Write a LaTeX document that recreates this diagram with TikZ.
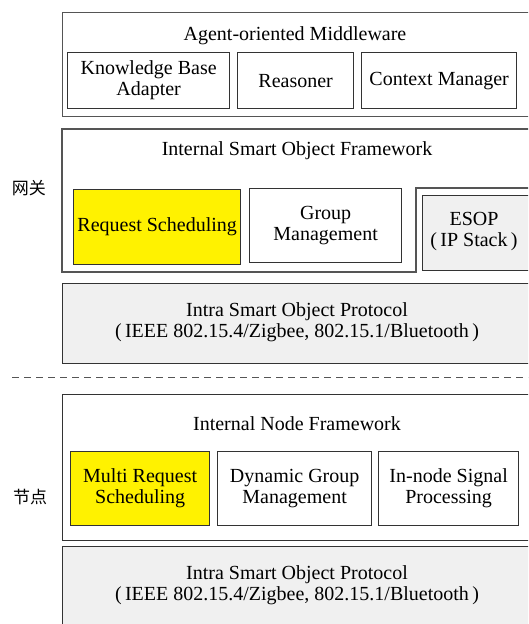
\documentclass[tikz,border=0pt]{standalone}
\usepackage{fontspec}
\setmainfont{Liberation Serif}
\newfontfamily\cjk{Noto Sans CJK SC}
\newcommand\boxfont{\rmfamily\fontsize{20}{21}\selectfont}
\definecolor{lightgr}{HTML}{F0F0F0}
\definecolor{edge}{HTML}{333333}
\definecolor{outer}{HTML}{555555}
\begin{document}
\begin{tikzpicture}[x=1pt,y=-1pt,
  box/.style={draw=edge, line width=1.3pt, inner sep=0pt, align=center, anchor=north west, font=\boxfont},
  frame/.style={box, draw=outer, line width=1.1pt},
  txt/.style={inner sep=0pt, align=center, font=\boxfont},
  side/.style={inner sep=0pt, font=\cjk\fontsize{17}{19}\selectfont}]
\useasboundingbox (0,0) rectangle (528,624);
\clip (0,0) rectangle (528,624);
% Agent-oriented Middleware
\node[frame, minimum width=480, minimum height=104] (aom) at (62,12) {};
\node[txt] (aomt) at (295,36) {Agent-oriented Middleware};
\node[box, minimum width=162, minimum height=56] (kba) at (67,52) {Knowledge Base\\Adapter};
\node[box, minimum width=116, minimum height=56] (rsn) at (237,52) {Reasoner};
\node[box, minimum width=155, minimum height=56] (ctx) at (361,52) {Context Manager};
% Internal Smart Object Framework
\coordinate (f1) at (62,129);
\coordinate (f2) at (560,129);
\coordinate (f3) at (560,188);
\coordinate (f4) at (416,188);
\coordinate (f5) at (416,272);
\coordinate (f6) at (62,272);
\draw[draw=outer, line width=1.1pt] (f1) -- (f2) -- (f3) -- (f4) -- (f5) -- (f6) -- cycle;
\node[txt] (isoft) at (297,151) {Internal Smart Object Framework};
\node[box, fill=yellow, minimum width=167, minimum height=75] (req) at (73,189) {Request Scheduling};
\node[box, minimum width=152, minimum height=74] (grp) at (249,188) {Group\\Management};
\node[box, fill=lightgr, minimum width=140, minimum height=75] (esop) at (422,195) {};
\node[txt] (esopt) at (474,232) {ESOP\\(\,IP Stack\,)};
% Intra protocol (gateway)
\node[box, fill=lightgr, minimum width=480, minimum height=80] (p1) at (62,283) {};
\node[txt] (p1t) at (297,322) {Intra Smart Object Protocol\\(\,IEEE 802.15.4/Zigbee, 802.15.1/Bluetooth\,)};
% dashed separator
\coordinate (d1) at (12,377);
\coordinate (d2) at (528,377);
\draw[draw=outer, line width=0.9pt, dash pattern=on 7pt off 5pt] (d1) -- (d2);
% Internal Node Framework
\node[box, minimum width=480, minimum height=146] (inf) at (62,394) {};
\node[txt] (inft) at (297,424) {Internal Node Framework};
\node[box, fill=yellow, minimum width=139, minimum height=74] (mrs) at (70,451) {Multi Request\\Scheduling};
\node[box, minimum width=154, minimum height=74] (dgm) at (217,451) {Dynamic Group\\Management};
\node[box, minimum width=140, minimum height=74] (ins) at (378,451) {In-node Signal\\Processing};
% Intra protocol (node)
\node[box, fill=lightgr, minimum width=480, minimum height=100] (p2) at (62,546) {};
\node[txt] (p2t) at (297,585) {Intra Smart Object Protocol\\(\,IEEE 802.15.4/Zigbee, 802.15.1/Bluetooth\,)};
% side labels
\node[side] (gw) at (29,188) {网关};
\node[side] (nd) at (30,497) {节点};
\end{tikzpicture}
\end{document}
